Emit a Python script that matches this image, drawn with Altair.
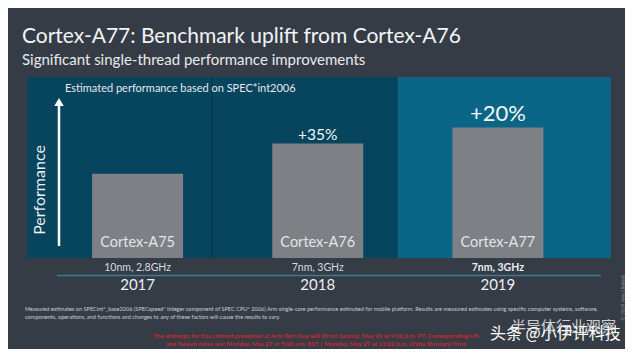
import altair as alt
import pandas as pd

# ---- data ----
chips = ["Cortex-A75", "Cortex-A76", "Cortex-A77"]
years = ["2017", "2018", "2019"]
process = ["10nm, 2.8GHz", "7nm, 3GHz", "7nm, 3GHz"]
performance = [100, 136, 155]          # relative single-thread performance
uplift = ["", "+35%", "+20%"]
panel_left = [-0.614, 0.412, 1.444]    # panel edges in category units
panel_right = [0.412, 1.444, 2.628]

title_text = "Cortex-A77: Benchmark uplift from Cortex-A76"
subtitle_text = "Significant single-thread performance improvements"
axis_label = "Performance"
note_label = "Estimated performance based on SPEC*int2006"
footnote_lines = [
    "Measured estimates on SPECint*_base2006 (SPECspeed* Integer component of SPEC CPU* 2006) Arm single-core performance estimated for mobile platform.  Results are measured estimates using specific computer systems, software,",
    "components, operations, and functions and changes to any of these factors will cause the results to vary.",
]
embargo_lines = [
    "The embargo for this content presented at Arm Tech Day will lift on Sunday, May 26 at 9:00 p.m. PT.  Corresponding UK",
    "and Taiwan dates are: Monday, May 27 at 5:00 a.m. BST / Monday, May 27 at 12:00 p.m. China Standard Time",
]
copyright_text = "© 2019 Arm Limited"
watermark_1 = "半导体行业观察"
watermark_2 = "头条 @小伊评科技"

df = pd.DataFrame({
    "chip": chips,
    "year": years,
    "process": process,
    "perf": performance,
    "uplift": uplift,
    "idx": list(range(len(chips))),
    "pl": panel_left,
    "pr": panel_right,
})
one = pd.DataFrame({"k": [0]})

W, H = 594, 181
F = "Lato"
CJK = "Noto Sans CJK SC"

xs = alt.Scale(domain=[-0.614, 2.628], nice=False, zero=False)
ys = alt.Scale(domain=[0, 215], nice=False, zero=True)

base = alt.Chart(df)

panels = base.mark_rect().encode(
    x=alt.X("pl:Q", scale=xs, axis=None),
    x2="pr:Q",
    y=alt.value(0),
    y2=alt.value(H),
    color=alt.condition(alt.datum.year == "2019", alt.value("#0b6586"), alt.value("#07445d")),
)

divider = base.transform_filter(alt.datum.year == "2018").mark_rule(
    color="#053a50", strokeWidth=1.5
).encode(x=alt.X("pl:Q", scale=xs, axis=None), y=alt.value(0), y2=alt.value(H))

bars = base.mark_bar(size=91, color="#7d8085").encode(
    x=alt.X("idx:Q", scale=xs, axis=None),
    y=alt.Y("perf:Q", scale=ys, axis=None),
)

chip_text = base.mark_text(fontSize=14.5, color="#e2e5e8", font=F).encode(
    x=alt.X("idx:Q", scale=xs, axis=None), y=alt.value(166), text="chip:N"
)

up35 = base.transform_filter(alt.datum.chip == "Cortex-A76").mark_text(
    fontSize=15.5, color="#f4f6f8", font=F, baseline="alphabetic", dy=-4
).encode(x=alt.X("idx:Q", scale=xs, axis=None), y=alt.Y("perf:Q", scale=ys, axis=None), text="uplift:N")

up20 = base.transform_filter(alt.datum.chip == "Cortex-A77").mark_text(
    fontSize=22, color="#f4f6f8", font=F, baseline="alphabetic", dy=-7
).encode(x=alt.X("idx:Q", scale=xs, axis=None), y=alt.Y("perf:Q", scale=ys, axis=None), text="uplift:N")

arrow_shaft = alt.Chart(one).mark_rule(color="white", strokeWidth=2.5).encode(
    x=alt.value(37), y=alt.value(29), y2=alt.value(169)
)
arrow_head = alt.Chart(one).mark_point(shape="triangle-up", filled=True, size=90, color="white", opacity=1).encode(
    x=alt.value(37), y=alt.value(25)
)
perf_label = alt.Chart(one).mark_text(angle=270, fontSize=16, color="#eef0f2", font=F).encode(
    x=alt.value(18), y=alt.value(113), text=alt.value(axis_label)
)
note = alt.Chart(one).mark_text(align="left", fontSize=11, color="#e6e9ec", font=F).encode(
    x=alt.value(43), y=alt.value(12), text=alt.value(note_label)
)

proc_normal = base.transform_filter(alt.datum.year != "2019").mark_text(
    fontSize=10.5, color="#d6dade", font=F
).encode(x=alt.X("idx:Q", scale=xs, axis=None), y=alt.value(191), text="process:N")
proc_bold = base.transform_filter(alt.datum.year == "2019").mark_text(
    fontSize=10.5, color="#eceef0", font=F, fontWeight="bold"
).encode(x=alt.X("idx:Q", scale=xs, axis=None), y=alt.value(191), text="process:N")

hline = alt.Chart(one).mark_rule(color="#3e7a92", strokeWidth=1.5).encode(
    x=alt.value(35), x2=alt.value(579), y=alt.value(198.5)
)

year_text = base.mark_text(fontSize=15, color="#eef0f2", font=F).encode(
    x=alt.X("idx:Q", scale=xs, axis=None), y=alt.value(208), text="year:N"
)

foot1 = alt.Chart(one).mark_text(align="left", fontSize=5.6, color="#c9cdd2", font=F).encode(
    x=alt.value(3), y=alt.value(232), text=alt.value(footnote_lines[0])
)
foot2 = alt.Chart(one).mark_text(align="left", fontSize=5.6, color="#c9cdd2", font=F).encode(
    x=alt.value(3), y=alt.value(240), text=alt.value(footnote_lines[1])
)
red1 = alt.Chart(one).mark_text(fontSize=6.2, color="#d0262c", font=F, fontWeight="bold").encode(
    x=alt.value(294), y=alt.value(259), text=alt.value(embargo_lines[0])
)
red2 = alt.Chart(one).mark_text(fontSize=6.2, color="#d0262c", font=F, fontWeight="bold").encode(
    x=alt.value(294), y=alt.value(267), text=alt.value(embargo_lines[1])
)
copyright_mark = alt.Chart(one).mark_text(angle=270, fontSize=5, color="#8b939b", font=F).encode(
    x=alt.value(601), y=alt.value(221), text=alt.value(copyright_text)
)
wm1 = alt.Chart(one).mark_text(align="left", fontSize=15, color="#ffffff", opacity=0.75, font=CJK).encode(
    x=alt.value(489), y=alt.value(250), text=alt.value(watermark_1)
)
wm2 = alt.Chart(one).mark_text(align="left", fontSize=16, color="#ffffff", font=CJK).encode(
    x=alt.value(468), y=alt.value(257), text=alt.value(watermark_2)
)

chart = alt.layer(
    panels, divider, bars, chip_text, up35, up20,
    arrow_shaft, arrow_head, perf_label, note,
    proc_normal, proc_bold, hline, year_text,
    foot1, foot2, red1, red2, copyright_mark, wm1, wm2,
).properties(
    width=W,
    height=H,
    autosize=alt.AutoSizeParams(type="none"),
    padding={"left": 14, "top": 69, "right": 9, "bottom": 91},
    background="#353c46",
    title=alt.TitleParams(
        text=title_text,
        subtitle=subtitle_text,
        anchor="start",
        frame="group",
        font=F,
        fontSize=21,
        fontWeight="normal",
        color="#f2f4f6",
        subtitleFont=F,
        subtitleFontSize=15,
        subtitleColor="#e8eaec",
        subtitlePadding=6,
        offset=8,
    ),
).configure_view(stroke=None)

chart.save("out.html", embed_options={"renderer": "svg", "actions": False})
